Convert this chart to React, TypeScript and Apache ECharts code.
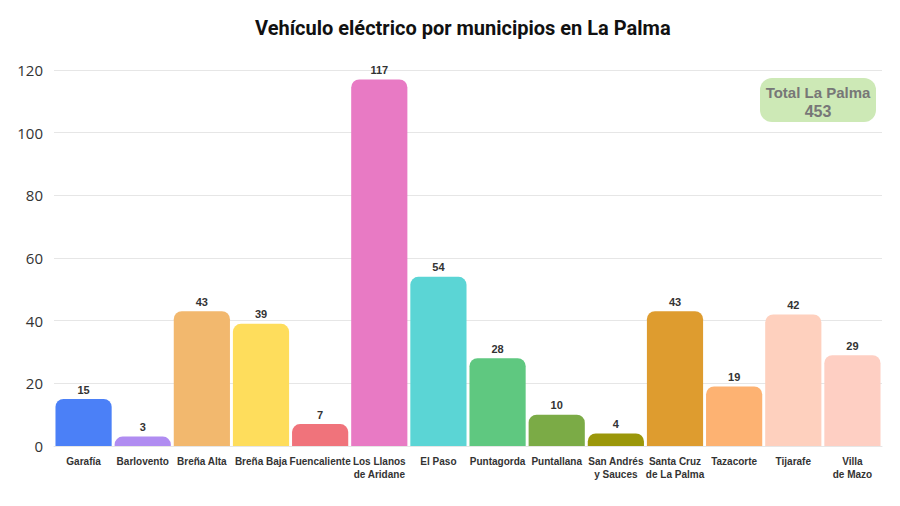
import React, { useEffect, useRef } from "react";
import * as echarts from "echarts";

const categories = [
  "Garafía",
  "Barlovento",
  "Breña Alta",
  "Breña Baja",
  "Fuencaliente",
  "Los Llanos\nde Aridane",
  "El Paso",
  "Puntagorda",
  "Puntallana",
  "San Andrés\ny Sauces",
  "Santa Cruz\nde La Palma",
  "Tazacorte",
  "Tijarafe",
  "Villa\nde Mazo",
];
const values = [15, 3, 43, 39, 7, 117, 54, 28, 10, 4, 43, 19, 42, 29];
const colors = [
  "#4b80f7",
  "#b08cf1",
  "#f2b86e",
  "#fedd5c",
  "#f0737b",
  "#e87ac4",
  "#5bd5d5",
  "#5fc880",
  "#7bab46",
  "#9b970a",
  "#de9c2f",
  "#fdb272",
  "#fed0be",
  "#fecfc3",
];
const totalLabel = "Total La Palma";
const totalValue = "453";

export default function App() {
  const ref = useRef<HTMLDivElement>(null);
  useEffect(() => {
    document.body.style.margin = "0";
    const chart = echarts.init(ref.current!, null, { renderer: "svg" });
    chart.setOption({
      animation: false,
      backgroundColor: "#ffffff",
      title: {
        text: "Vehículo eléctrico por municipios en La Palma",
        left: 250,
        top: 13,
        textStyle: {
          fontFamily: "Roboto",
          fontWeight: "bold",
          fontSize: 20,
          color: "#111",
        },
      },
      grid: { left: 54, right: 18, top: 70, bottom: 60 },
      xAxis: {
        type: "category",
        data: categories,
        axisLine: { show: true, lineStyle: { color: "#e6e6e6" } },
        axisTick: { show: false },
        axisLabel: {
          interval: 0,
          margin: 9,
          fontFamily: "Liberation Sans",
          fontWeight: "bold",
          fontSize: 10,
          color: "#333",
          lineHeight: 13,
        },
      },
      yAxis: {
        type: "value",
        min: 0,
        max: 120,
        interval: 20,
        axisLine: { show: false },
        axisTick: { show: false },
        axisLabel: {
          fontFamily: "Open Sans",
          fontSize: 15,
          color: "#333",
          margin: 11,
        },
        splitLine: { lineStyle: { color: "#e6e6e6" } },
      },
      series: [
        {
          type: "bar",
          data: values.map((v, i) => ({ value: v, itemStyle: { color: colors[i] } })),
          barCategoryGap: "5%",
          itemStyle: { borderRadius: [8, 8, 0, 0] },
          label: {
            show: true,
            position: "top",
            distance: 4,
            fontFamily: "Liberation Sans",
            fontWeight: "bold",
            fontSize: 11,
            color: "#333",
          },
        },
      ],
      graphic: [
        {
          type: "group",
          left: 760,
          top: 78,
          children: [
            {
              type: "rect",
              shape: { x: 0, y: 0, width: 116, height: 44, r: 12 },
              style: { fill: "#cde9b6" },
            },
            {
              type: "text",
              x: 58,
              y: 7,
              style: {
                text: totalLabel,
                fill: "#777",
                font: "bold 15px 'Liberation Sans'",
                textAlign: "center",
              },
            },
            {
              type: "text",
              x: 58,
              y: 25,
              style: {
                text: totalValue,
                fill: "#777",
                font: "bold 16px 'Liberation Sans'",
                textAlign: "center",
              },
            },
          ],
        },
      ],
    });
    return () => chart.dispose();
  }, []);
  return <div ref={ref} style={{ width: 900, height: 506 }} />;
}
